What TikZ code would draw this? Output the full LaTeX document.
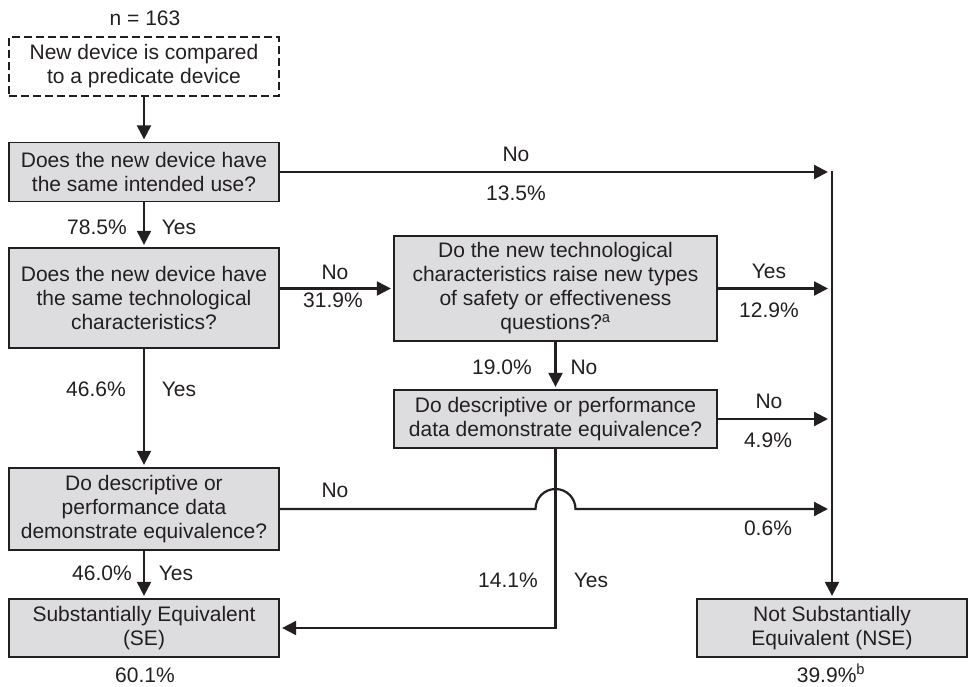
\documentclass[tikz,border=0pt]{standalone}
\usepackage{fontspec}
\setmainfont{Liberation Sans}
\usetikzlibrary{arrows.meta,calc}
\definecolor{ink}{RGB}{35,31,32}
\definecolor{boxfill}{RGB}{221,221,223}
\begin{document}
\begin{tikzpicture}[x=1pt,y=-1pt,
  every node/.style={font=\fontsize{21}{24}\selectfont, text=ink},
  qbox/.style={draw=ink, line width=1.3pt, fill=boxfill, minimum width=270pt,
    align=center, inner sep=0pt},
  startbox/.style={draw=ink, line width=1.3pt, dash pattern=on 8pt off 4pt,
    minimum width=270pt, minimum height=59pt, align=center, inner sep=0pt},
  flow/.style={draw=ink, line width=2.2pt},
  arr/.style={flow, -{Triangle[length=14pt,width=14pt]}, shorten >=2.5pt},
  arrj/.style={arr, shorten >=4pt},
  lbl/.style={inner sep=0pt, anchor=center}]
\useasboundingbox (0,0) rectangle (970,686);

% decision boxes
\node[lbl] (n) at (145,18) {n = 163};
\node[startbox] (start) at (144,66.5) {New device is compared\\to a predicate device};
\node[qbox, minimum height=59pt] (q1) at (144,172) {Does the new device have\\the same intended use?};
\node[qbox, minimum height=100pt] (q2) at (144,298) {Does the new device have\\the same technological\\characteristics?};
\node[qbox, minimum width=323pt, minimum height=105pt] (q3) at (555.5,288.5)
  {Do the new technological\\characteristics raise new types\\of safety or effectiveness\\questions?\textsuperscript{a}};
\node[qbox, minimum width=323pt, minimum height=58pt] (q4) at (555.5,419)
  {Do descriptive or performance\\data demonstrate equivalence?};
\node[qbox, minimum height=82pt] (q5) at (144,509) {Do descriptive or\\performance data\\demonstrate equivalence?};
\node[qbox, minimum height=58pt] (se) at (144,628) {Substantially Equivalent\\(SE)};
\node[qbox, minimum height=58pt] (nse) at (832,628) {Not Substantially\\Equivalent (NSE)};

% collecting line towards NSE
\coordinate (top) at (832,172);
\draw[arr] ($(top)+(0,-1)$) -- (nse.north);

% connectors
\draw[arr] (start.south) -- (q1.north);
\draw[arrj] (q1.east) -- (q1.east -| top);
\draw[arr] (q1.south) -- (q2.north);
\draw[arr] (q2.east |- q3.west) -- (q3.west);
\draw[arrj] (q3.east) -- (q3.east -| top);
\draw[arr] (q3.south) -- (q4.north);
\draw[arrj] (q4.east) -- (q4.east -| top);
\draw[arr] (q2.south) -- (q5.north);
\draw[arrj] (q5.east) -- ($(q5.east -| q4.south)+(-20,0)$)
  arc[start angle=180, end angle=0, radius=20pt] -- (q5.east -| top);
\draw[arr] (q4.south) -- (q4.south |- se.east) -- (se.east);
\draw[arr] (q5.south) -- (se.north);

% branch labels
\node[lbl] (l1no) at (516,154) {No};
\node[lbl] (l1pct) at (516,193) {13.5\%};
\node[lbl] (l2pct) at (97,227) {78.5\%};
\node[lbl] (l2yes) at (179,227) {Yes};
\node[lbl] (l3no) at (335,272) {No};
\node[lbl] (l3pct) at (333,300) {31.9\%};
\node[lbl] (l4yes) at (769,271) {Yes};
\node[lbl] (l4pct) at (769,310) {12.9\%};
\node[lbl] (l5pct) at (502,367) {19.0\%};
\node[lbl] (l5no) at (584,367) {No};
\node[lbl] (l6no) at (769,401) {No};
\node[lbl] (l6pct) at (768,440) {4.9\%};
\node[lbl] (l7pct) at (96,389) {46.6\%};
\node[lbl] (l7yes) at (179,389) {Yes};
\node[lbl] (l8no) at (335,490) {No};
\node[lbl] (l8pct) at (768,528) {0.6\%};
\node[lbl] (l9pct) at (508,580) {14.1\%};
\node[lbl] (l9yes) at (591,580) {Yes};
\node[lbl] (l10pct) at (102,573) {46.0\%};
\node[lbl] (l10yes) at (176,573) {Yes};
\node[lbl] (sepct) at (145,675) {60.1\%};
\node[inner sep=0pt, anchor=base] (nsepct) at (831,682) {39.9\%\textsuperscript{b}};
\end{tikzpicture}
\end{document}
